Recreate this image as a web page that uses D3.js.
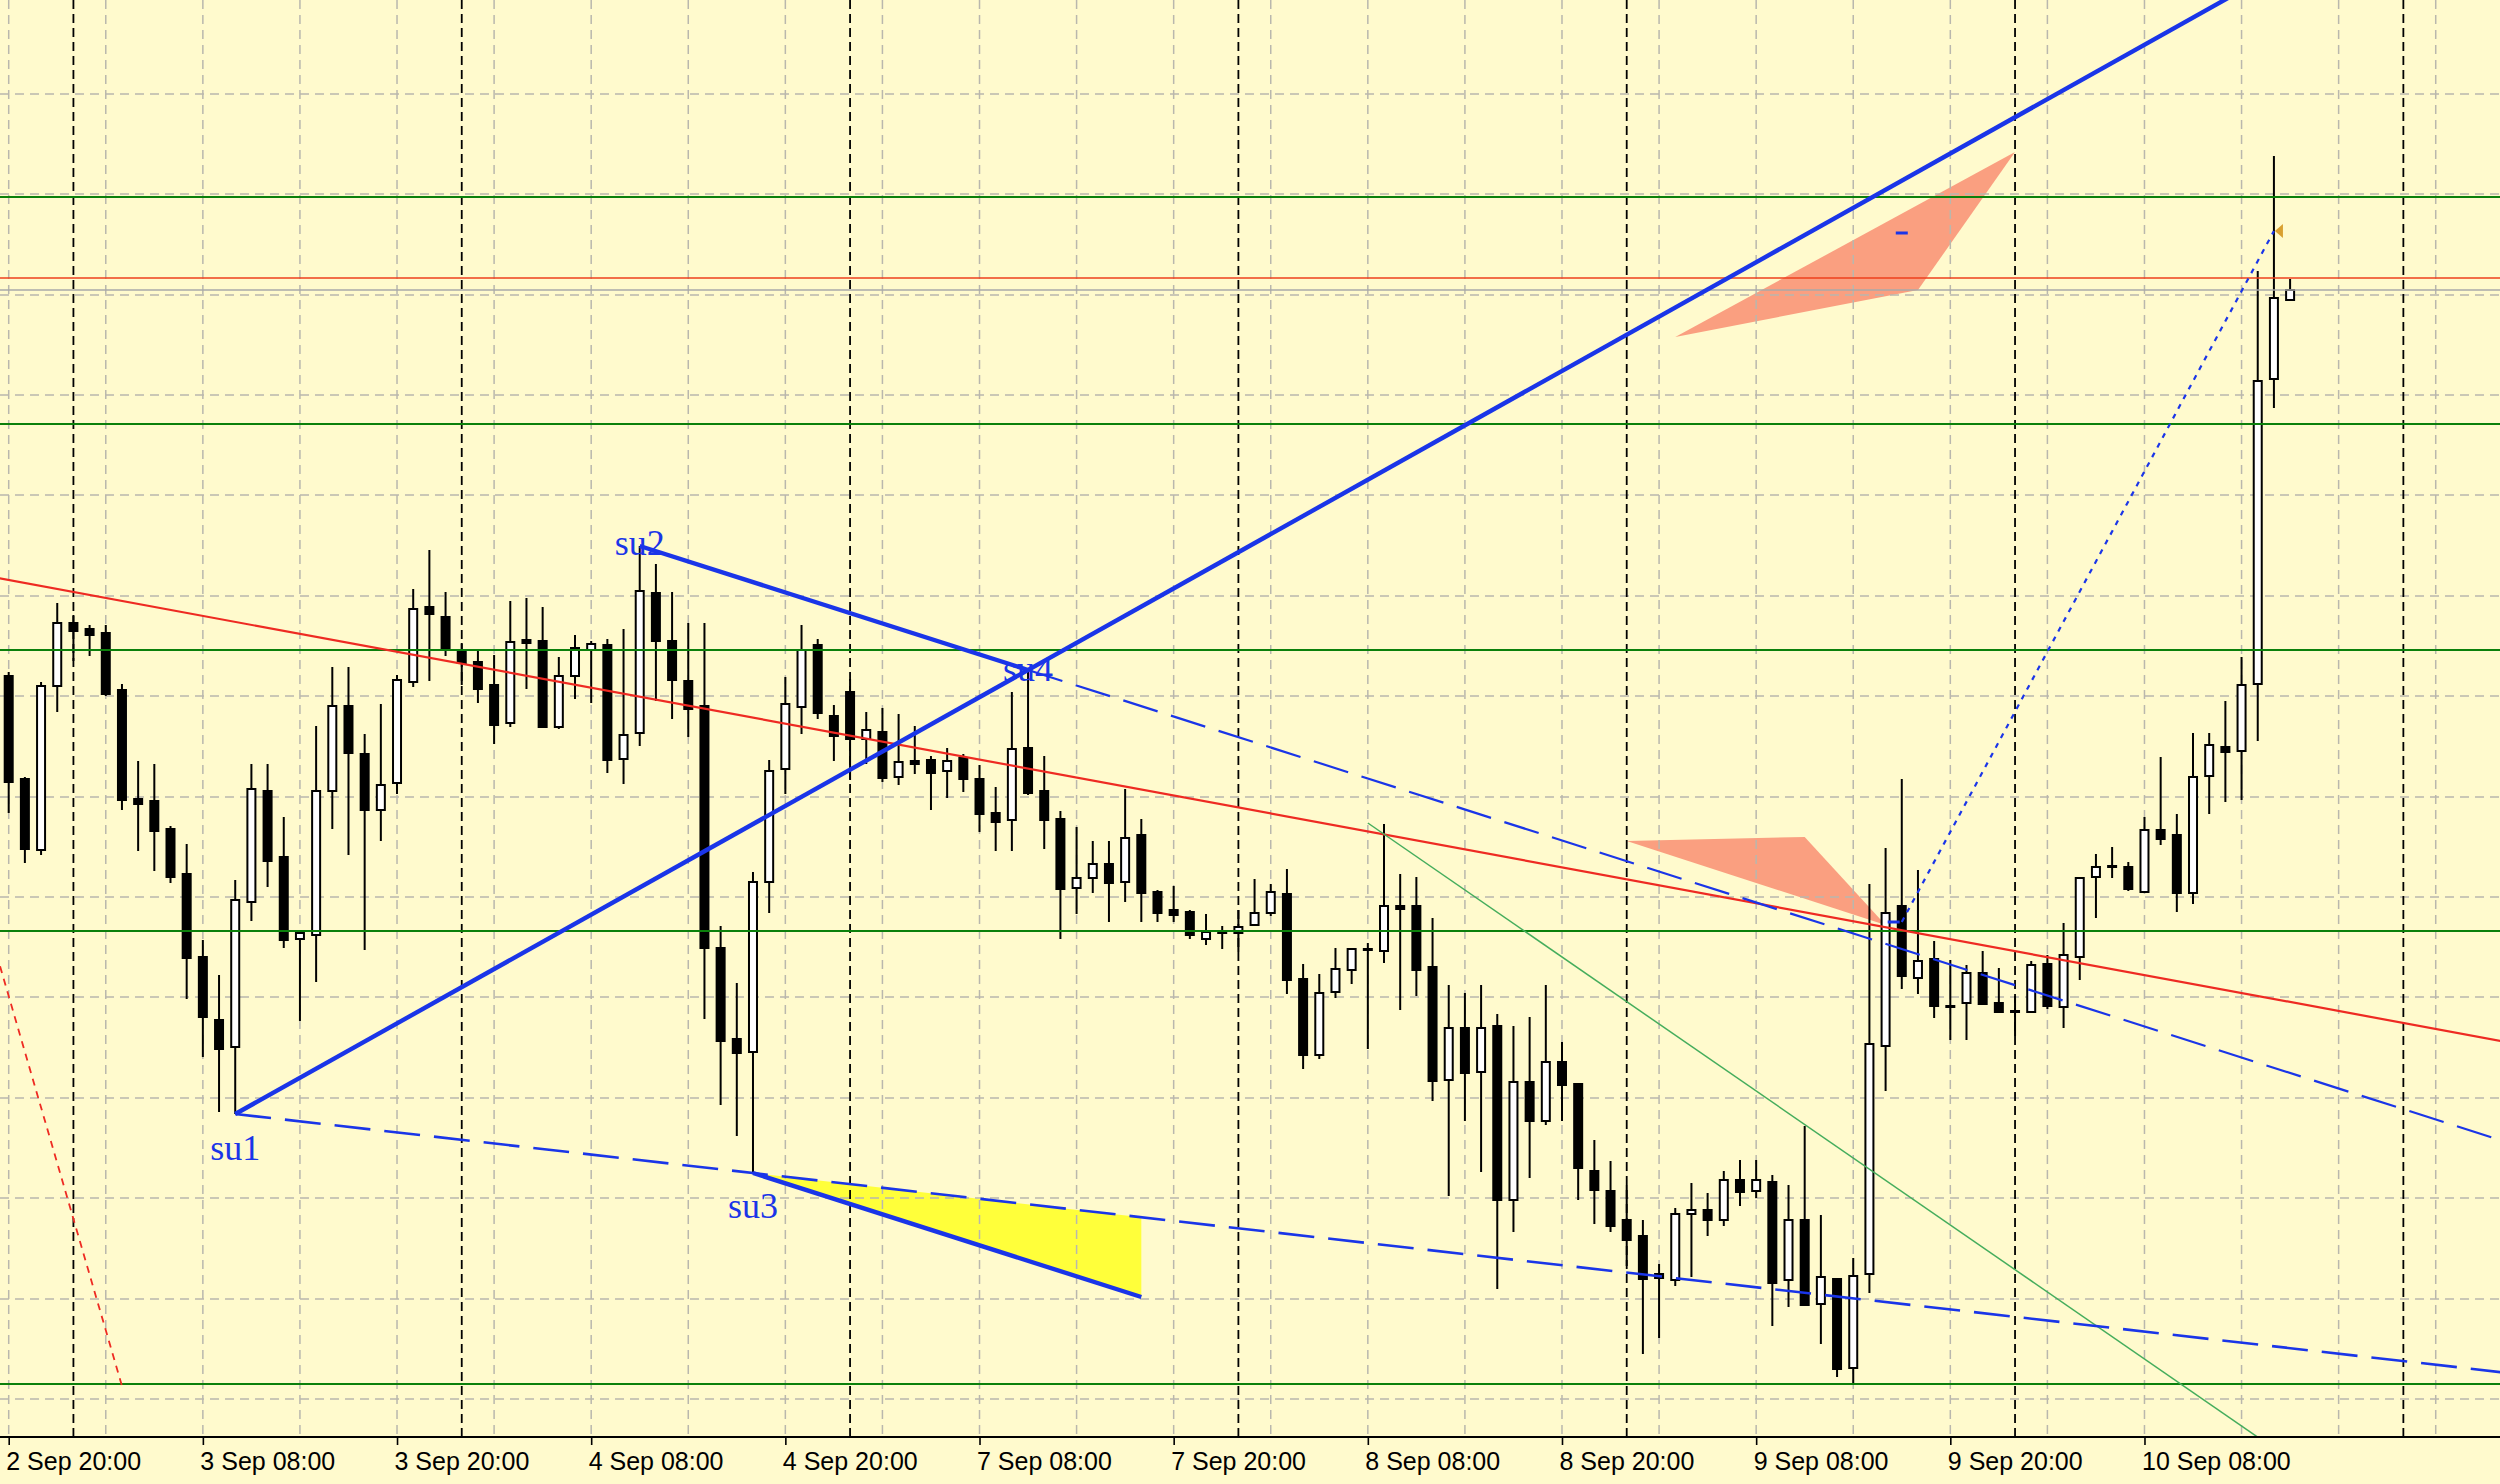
<!DOCTYPE html>
<html><head><meta charset="utf-8">
<script src="https://cdn.jsdelivr.net/npm/d3@7"></script>
<style>html,body{margin:0;padding:0;background:#FFFACD;overflow:hidden;} svg{display:block;}</style>
</head><body>
<svg id="chart" width="2500" height="1484"></svg>
<script>
// ---------- DATA (H1 bars, price in chart units) ----------
const opens  = [760,657,586,750,813,807,803,746,637,635,607,562,479,416,389,534,645,579,497,501,645,730,682,626,653,754,829,819,786,774,751,713,796,795,709,760,786,791,677,703,843,795,755,730,488,397,384,554,667,729,791,720,744,697,704,659,675,676,665,678,657,623,616,688,645,617,548,558,572,554,601,544,526,524,497,505,503,511,523,542,457,381,444,466,487,485,530,530,469,356,408,364,410,236,354,315,374,352,265,245,216,200,162,156,222,226,216,256,245,254,156,216,132,157,68,162,390,530,458,477,430,433,463,433,425,424,472,429,479,559,570,569,544,606,601,543,660,689,685,752,1057,1136];
const highs  = [764,659,754,833,821,811,811,752,675,672,610,592,496,461,556,672,672,619,505,710,769,769,702,732,761,847,886,844,793,785,781,835,838,829,779,801,795,797,807,890,872,844,813,813,510,453,564,676,759,811,797,731,757,724,728,722,710,680,688,682,671,649,744,768,680,625,609,595,595,647,617,546,550,526,522,510,526,557,552,567,472,462,488,488,493,612,562,559,518,451,443,451,422,410,419,451,394,352,296,275,251,216,172,228,253,243,265,276,276,261,251,310,221,158,178,552,588,657,566,495,476,471,485,468,440,475,481,513,559,582,589,574,619,679,622,703,703,735,779,1165,1280,1157];
const lows   = [623,573,581,724,775,780,740,626,585,565,553,437,379,324,322,515,549,488,415,454,607,581,486,595,642,749,755,780,751,733,692,709,747,708,707,737,733,663,652,690,735,717,699,417,331,300,263,523,642,702,717,675,656,672,654,651,662,626,638,644,604,585,585,641,587,497,522,543,514,534,514,514,514,497,491,487,484,511,520,442,367,377,438,452,387,473,426,440,335,240,315,264,147,204,258,311,315,236,212,204,170,82,98,150,159,200,210,230,238,110,129,131,92,59,53,143,345,447,442,418,396,396,432,424,400,424,427,408,456,518,558,545,544,591,524,532,622,634,636,695,1028,1136];
const closes = [654,587,750,813,805,801,742,636,632,605,559,478,419,387,536,647,575,496,503,645,730,683,626,651,756,827,822,786,773,747,711,794,793,709,760,788,792,676,701,845,795,756,727,488,395,383,554,665,732,786,723,700,697,706,658,674,672,663,675,657,622,614,687,643,616,547,558,572,553,598,543,523,521,501,504,503,509,523,544,456,381,443,467,487,486,530,527,466,355,408,363,408,236,354,315,374,351,268,246,210,196,157,158,222,226,216,256,244,256,153,216,131,159,67,160,392,523,460,475,430,429,463,432,424,424,471,430,481,558,569,569,547,606,597,543,659,691,684,751,1055,1138,1146];

const tickBars   = [0,12,24,36,48,60,72,84,96,108,120,132];
const tickLabels = ['2 Sep 20:00','3 Sep 08:00','3 Sep 20:00','4 Sep 08:00','4 Sep 20:00','7 Sep 08:00','7 Sep 20:00','8 Sep 08:00','8 Sep 20:00','9 Sep 08:00','9 Sep 20:00','10 Sep 08:00'];
const separatorBars = [4,28,52,76,100,124,148];
const gridBars   = [0,6,12,18,24,30,36,42,48,54,60,66,72,78,84,90,96,102,108,114,120,126,132,138,144,150];
const gridPrices = [1342,1242,1141,1041,941,840,740,639,539,439,338,238,137,37];

const greenLevels = [1239,1012,786,505,52];
const redLevels   = [1158];
const bidLevel    = 1146;

const swingNames  = ['su1','su2','su3','su4'];
const swingBars   = [14,39,46,63];
const swingPrices = [322,890,263,766];
const swingLabelPrices = [276,881,218,755];

const trendRed    = [{bar:0,price:856},{bar:141,price:434}];
const redDotted   = [{bar:-3,price:607},{bar:7,price:50}];
const greenDiag   = [{bar:84,price:613},{bar:120,price:211}];
const channelEnd  = {bar:70,price:139};
const dottedBlue  = [{bar:117,price:514},{bar:140,price:1205}];
const upperTriangle = [{bar:103,price:1099},{bar:124,price:1284},{bar:118,price:1146}];
const lowerTriangle = [{bar:100,price:595},{bar:111,price:599},{bar:116,price:511}];
const dashMarks   = [{bar:117,price:1203},{bar:116.5,price:514}];
const arrowPoint  = {bar:140,price:1205};

// ---------- SETUP ----------
const W = 2500, H = 1484, plotBottom = 1437;
const svg = d3.select('#chart');
const xScale = d3.scaleLinear().domain([0,141]).range([8.7,2290.1]);
const yScale = d3.scaleLinear().domain([0,1436]).range([1436,0]);

const C = {
  bg:'#FFFACD', grid:'#b9b7ad', blue:'#1a35e8', green:'#0b800b', red:'#ee2a22',
  redH:'#ee3f1c', salmon:'#FA9F80', yellow:'#FFFF3A', greenThin:'#45ad5c', gold:'#d9a030', bid:'#a8a8a8'
};

svg.append('rect').attr('width',W).attr('height',H).attr('fill',C.bg);
svg.append('defs').append('clipPath').attr('id','plot')
  .append('rect').attr('x',0).attr('y',0).attr('width',W).attr('height',plotBottom);

const plot = svg.append('g').attr('clip-path','url(#plot)');
const lineGen = d3.line().x(d=>xScale(d.bar)).y(d=>yScale(d.price));

function extendLine(p1,p2,b0,b1){
  const s = (p2.price-p1.price)/(p2.bar-p1.bar);
  return [{bar:b0,price:p1.price+s*(b0-p1.bar)},{bar:b1,price:p1.price+s*(b1-p1.bar)}];
}
const su = swingNames.map((n,i)=>({name:n,bar:swingBars[i],price:swingPrices[i],labelPrice:swingLabelPrices[i]}));

// ---------- background objects (filled triangles) ----------
const lineCAtEnd = extendLine(su[0],su[2],su[2].bar,channelEnd.bar)[1];
const yellowTri = [su[2], channelEnd, lineCAtEnd];
[upperTriangle, lowerTriangle].forEach(t=>{
  plot.append('path').attr('d',lineGen(t)+'Z').attr('fill',C.salmon);
});
plot.append('path').attr('d',lineGen(yellowTri)+'Z').attr('fill',C.yellow);

// ---------- grid ----------
plot.append('g').selectAll('line').data(gridBars).join('line')
  .attr('x1',d=>xScale(d)).attr('x2',d=>xScale(d)).attr('y1',0).attr('y2',plotBottom)
  .attr('stroke',C.grid).attr('stroke-width',1.5).attr('stroke-dasharray','9,6');
plot.append('g').selectAll('line').data(gridPrices).join('line')
  .attr('x1',0).attr('x2',W).attr('y1',d=>yScale(d)).attr('y2',d=>yScale(d))
  .attr('stroke',C.grid).attr('stroke-width',1.5).attr('stroke-dasharray','9,6');
plot.append('g').selectAll('line').data(separatorBars).join('line')
  .attr('x1',d=>xScale(d)).attr('x2',d=>xScale(d)).attr('y1',0).attr('y2',plotBottom)
  .attr('stroke','#000').attr('stroke-width',1.8).attr('stroke-dasharray','9,5');

// ---------- candles ----------
const bars = opens.map((o,i)=>({i,o,h:highs[i],l:lows[i],c:closes[i]}));
const cg = plot.append('g');
cg.selectAll('line').data(bars).join('line')
  .attr('x1',d=>xScale(d.i)).attr('x2',d=>xScale(d.i))
  .attr('y1',d=>yScale(d.h)).attr('y2',d=>yScale(d.l))
  .attr('stroke','#000').attr('stroke-width',2);
cg.selectAll('rect').data(bars).join('rect')
  .attr('x',d=>xScale(d.i)-4).attr('width',8)
  .attr('y',d=>yScale(Math.max(d.o,d.c)))
  .attr('height',d=>Math.max(0.5,Math.abs(yScale(d.o)-yScale(d.c))))
  .attr('fill',d=>d.c>d.o?'#fff':'#000')
  .attr('stroke','#000').attr('stroke-width',2);

// ---------- horizontal lines ----------
plot.append('g').selectAll('line').data(greenLevels).join('line')
  .attr('x1',0).attr('x2',W).attr('y1',d=>yScale(d)).attr('y2',d=>yScale(d))
  .attr('stroke',C.green).attr('stroke-width',2);
plot.append('g').selectAll('line').data(redLevels).join('line')
  .attr('x1',0).attr('x2',W).attr('y1',d=>yScale(d)).attr('y2',d=>yScale(d))
  .attr('stroke',C.redH).attr('stroke-width',1.6);
plot.append('line').attr('x1',0).attr('x2',W).attr('y1',yScale(bidLevel)).attr('y2',yScale(bidLevel))
  .attr('stroke',C.bid).attr('stroke-width',1.6);

// ---------- trend lines ----------
function drawPath(pts,stroke,width,dash){
  const p = plot.append('path').attr('d',lineGen(pts)).attr('fill','none')
    .attr('stroke',stroke).attr('stroke-width',width);
  if(dash) p.attr('stroke-dasharray',dash);
  return p;
}
drawPath(extendLine(trendRed[0],trendRed[1],-5,165),C.red,2.2);
drawPath(redDotted,C.red,1.8,'7,6');
drawPath(extendLine(greenDiag[0],greenDiag[1],greenDiag[0].bar,170),C.greenThin,1.5);

// line C: su1 -> su3 dashed ray
drawPath(extendLine(su[0],su[2],su[0].bar,170),C.blue,2.6,'36,14');
// line B dashed continuation from su4
drawPath(extendLine(su[1],su[3],su[3].bar,170),C.blue,2.2,'36,14');
// line A: su1 -> su4 solid ray
drawPath(extendLine(su[0],su[3],su[0].bar,170),C.blue,4.4);
// line B solid su2 -> su4
drawPath([su[1],su[3]],C.blue,4.4);
// channel segment from su3
drawPath([su[2],channelEnd],C.blue,4.4);
// dotted blue
drawPath(dottedBlue,C.blue,2.2,'5,6');

// small dash marks
plot.append('g').selectAll('line').data(dashMarks).join('line')
  .attr('x1',d=>xScale(d.bar)-6).attr('x2',d=>xScale(d.bar)+6)
  .attr('y1',d=>yScale(d.price)).attr('y2',d=>yScale(d.price))
  .attr('stroke',C.blue).attr('stroke-width',3);

// gold arrow
const ax = xScale(arrowPoint.bar)+1, ay = yScale(arrowPoint.price);
plot.append('path').attr('d',`M${ax},${ay}L${ax+8},${ay-7}L${ax+8},${ay+7}Z`).attr('fill',C.gold);

// swing labels
plot.append('g').selectAll('text').data(su).join('text')
  .attr('x',d=>xScale(d.bar)).attr('y',d=>yScale(d.labelPrice))
  .attr('text-anchor','middle')
  .attr('font-family','"Liberation Serif","Times New Roman",serif')
  .attr('font-size',36).attr('fill',C.blue).text(d=>d.name);

// ---------- axis ----------
const axis = d3.axisBottom(xScale).tickValues(tickBars)
  .tickFormat((d,i)=>tickLabels[i]).tickSize(8).tickSizeOuter(0).tickPadding(7);
const ag = svg.append('g').attr('transform',`translate(0,${plotBottom})`).call(axis);
ag.select('.domain').remove();
ag.selectAll('.tick line').attr('stroke','#000').attr('stroke-width',1.6);
ag.selectAll('.tick text').attr('text-anchor','start').attr('x',-3)
  .attr('font-family','"Liberation Sans",Arial,sans-serif').attr('font-size',25).attr('fill','#000');
svg.append('line').attr('x1',0).attr('x2',W).attr('y1',plotBottom).attr('y2',plotBottom)
  .attr('stroke','#000').attr('stroke-width',2);
</script>
</body></html>
